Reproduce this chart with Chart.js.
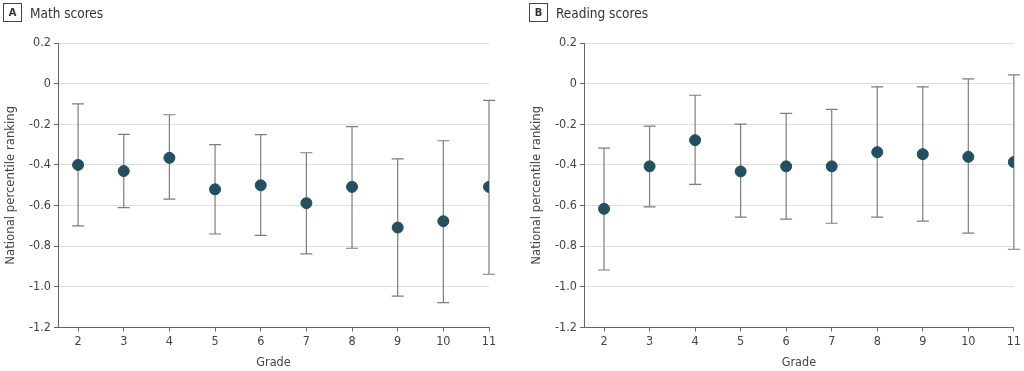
<!DOCTYPE html>
<html lang="en">
  <head>
    <meta charset="UTF-8" />
    <title>Math and Reading scores by grade</title>
    <style>
      body { margin: 0; background: #fff; font-family: "DejaVu Sans Condensed", "DejaVu Sans", sans-serif; color: #333; }
      .wrap { position: relative; width: 1024px; height: 371px; overflow: hidden; }
      .panel { position: absolute; top: 0; height: 371px; }
      .panel canvas { position: absolute; left: 0; top: 0; }
      .head { position: absolute; left: 3px; top: 3px; display: flex; align-items: center; font-size: 13.5px; color: #333; }
      .head .box { display: inline-flex; align-items: center; justify-content: center; width: 17px; height: 17px; border: 1px solid #444; font-weight: bold; font-size: 11px; margin-right: 8px; }
    </style>
  </head>
  <body>
    <div class="wrap">
      <div class="panel" style="left:0;width:512px">
        <canvas id="math" width="512" height="371"></canvas>
        <div class="head"><span class="box">A</span>Math scores</div>
      </div>
      <div class="panel" style="left:526px;width:498px">
        <canvas id="reading" width="498" height="371"></canvas>
        <div class="head"><span class="box">B</span>Reading scores</div>
      </div>
    </div>
    <script src="https://cdn.jsdelivr.net/npm/chart.js"></script>
    <script>
      // values
      const grades = [2, 3, 4, 5, 6, 7, 8, 9, 10, 11];
      const mathMean = [-0.40, -0.43, -0.365, -0.52, -0.50, -0.588, -0.508, -0.708, -0.677, -0.508];
      const mathLower = [-0.70, -0.61, -0.568, -0.74, -0.747, -0.838, -0.81, -1.046, -1.078, -0.938];
      const mathUpper = [-0.10, -0.25, -0.153, -0.30, -0.251, -0.34, -0.212, -0.37, -0.281, -0.082];
      const readMean = [-0.616, -0.407, -0.278, -0.432, -0.407, -0.407, -0.337, -0.347, -0.36, -0.386];
      const readLower = [-0.917, -0.606, -0.496, -0.657, -0.667, -0.687, -0.657, -0.677, -0.736, -0.815];
      const readUpper = [-0.317, -0.209, -0.057, -0.199, -0.146, -0.127, -0.016, -0.016, 0.023, 0.043];
      const yTicks = [0.2, 0, -0.2, -0.4, -0.6, -0.8, -1.0, -1.2];
      const yTickLabels = ["0.2", "0", "-0.2", "-0.4", "-0.6", "-0.8", "-1.0", "-1.2"];

      Chart.defaults.font.family = '"DejaVu Sans Condensed", "DejaVu Sans", sans-serif';
      Chart.defaults.color = "#444";

      // whiskers with caps, drawn under the dots
      const errorBars = {
        id: "errorBars",
        beforeDatasetsDraw(chart) {
          const { ctx, scales: { x, y } } = chart;
          const lo = chart.options.plugins.errorBars.lower;
          const hi = chart.options.plugins.errorBars.upper;
          ctx.save();
          ctx.strokeStyle = "#7d7d7d";
          ctx.lineWidth = 1.2;
          grades.forEach((g, i) => {
            const px = x.getPixelForValue(g);
            const pl = y.getPixelForValue(lo[i]);
            const ph = y.getPixelForValue(hi[i]);
            ctx.beginPath();
            ctx.moveTo(px, pl); ctx.lineTo(px, ph);
            ctx.moveTo(px - 6, pl); ctx.lineTo(px + 6, pl);
            ctx.moveTo(px - 6, ph); ctx.lineTo(px + 6, ph);
            ctx.stroke();
          });
          ctx.restore();
        }
      };

      function makeChart(id, means, lower, upper, rightPad) {
        return new Chart(document.getElementById(id), {
          type: "scatter",
          data: {
            datasets: [{
              data: grades.map((g, i) => ({ x: g, y: means[i] })),
              backgroundColor: "#234f5e",
              borderColor: "#234f5e",
              pointRadius: 5.5,
              pointHoverRadius: 5.5
            }]
          },
          options: {
            responsive: false,
            animation: false,
            layout: { padding: { top: 43, right: rightPad, bottom: 0, left: 0 } },
            plugins: {
              legend: { display: false },
              tooltip: { enabled: false },
              errorBars: { lower: lower, upper: upper }
            },
            scales: {
              x: {
                type: "linear",
                min: 1.56,
                max: 11,
                afterBuildTicks: (s) => { s.ticks = grades.map((v) => ({ value: v })); },
                afterFit: (s) => { s.height = 43.5; },
                border: { color: "#666", width: 1 },
                grid: { drawOnChartArea: false, drawTicks: true, tickLength: 4, tickColor: "#666" },
                ticks: { padding: 3, font: { size: 12.5 }, color: "#444" },
                title: { display: true, text: "Grade", font: { size: 12.5 }, color: "#444", padding: { top: 0, bottom: 1 } }
              },
              y: {
                min: -1.2,
                max: 0.2,
                afterBuildTicks: (s) => { s.ticks = yTicks.map((v) => ({ value: v })); },
                afterFit: (s) => { s.width = 58; },
                border: { color: "#666", width: 1 },
                grid: { color: "#dedede", lineWidth: 1, drawTicks: true, tickLength: 4, tickColor: "#666" },
                ticks: {
                  padding: 3,
                  font: { size: 12.5 },
                  color: "#444",
                  callback: (v) => yTickLabels[yTicks.findIndex((t) => Math.abs(t - v) < 1e-9)]
                },
                title: { display: true, text: "National percentile ranking", font: { size: 13 }, color: "#444", padding: { top: 3, bottom: 0 } }
              }
            }
          },
          plugins: [errorBars]
        });
      }

      makeChart("math", mathMean, mathLower, mathUpper, 23);
      makeChart("reading", readMean, readLower, readUpper, 9);
    </script>
  </body>
</html>
